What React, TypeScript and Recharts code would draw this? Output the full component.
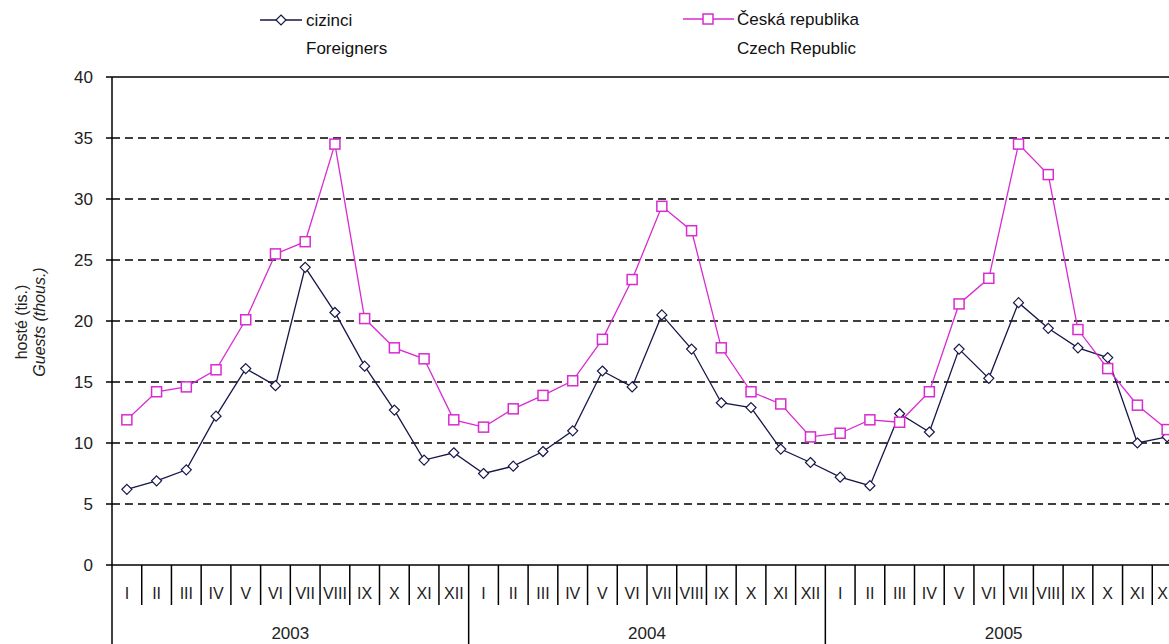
import {LineChart, Line, XAxis, YAxis, CartesianGrid, Legend, ReferenceLine} from "recharts";

const months = ["I", "II", "III", "IV", "V", "VI", "VII", "VIII", "IX", "X", "XI", "XII"];
const years = ["2003", "2004", "2005"];
const yTicks = [0, 5, 10, 15, 20, 25, 30, 35, 40];

// cizinci / Foreigners (thous.)
const foreigners = [
  6.2, 6.9, 7.8, 12.2, 16.1, 14.7, 24.4, 20.7, 16.3, 12.7, 8.6, 9.2,
  7.5, 8.1, 9.3, 11.0, 15.9, 14.6, 20.5, 17.7, 13.3, 12.9, 9.5, 8.4,
  7.2, 6.5, 12.4, 10.9, 17.7, 15.3, 21.5, 19.4, 17.8, 17.0, 10.0, 10.5,
];
// Česká republika / Czech Republic (thous.)
const czech = [
  11.9, 14.2, 14.6, 16.0, 20.1, 25.5, 26.5, 34.5, 20.2, 17.8, 16.9, 11.9,
  11.3, 12.8, 13.9, 15.1, 18.5, 23.4, 29.4, 27.4, 17.8, 14.2, 13.2, 10.5,
  10.8, 11.9, 11.7, 14.2, 21.4, 23.5, 34.5, 32.0, 19.3, 16.1, 13.1, 11.1,
];

const NAVY = "#16164a";
const PINK = "#d82bd0";
const FONT = "'Liberation Sans', Arial, sans-serif";

const CHART_W = 1190;
const CHART_H = 644;
const LEFT = 112;
const RIGHT = 8;
const TOP = 77;
const BAND = (CHART_W - LEFT - RIGHT) / (months.length * years.length);

const data = years.flatMap((year) =>
  months.map((m) => ({key: year + "-" + m, month: m, year: year}))
).map((row, i) => ({...row, foreigners: foreigners[i], czech: czech[i]}));

function MonthTick(props: any) {
  const {x, y, index} = props;
  const m = index % 12;
  const left = x - BAND / 2;
  return (
    <g>
      <line x1={left} x2={left} y1={y} y2={m === 0 ? CHART_H : y + 40} stroke="#000" strokeWidth={1.5} />
      <text x={x} y={y + 34} textAnchor="middle" fontSize={16} fontFamily={FONT} fill="#222">
        {data[index].month}
      </text>
      {m === 6 && (
        <text x={left} y={y + 74} textAnchor="middle" fontSize={17} fontFamily={FONT} fill="#222">
          {data[index].year}
        </text>
      )}
    </g>
  );
}

function Diamond(props: any) {
  const {cx, cy} = props;
  if (cx == null || cy == null) return null;
  return (
    <path
      d={`M${cx},${cy - 5} L${cx + 5},${cy} L${cx},${cy + 5} L${cx - 5},${cy} Z`}
      fill="#fff"
      stroke={NAVY}
      strokeWidth={1.2}
    />
  );
}

function Square(props: any) {
  const {cx, cy} = props;
  if (cx == null || cy == null) return null;
  return <rect x={cx - 5} y={cy - 5} width={10} height={10} fill="#fff" stroke={PINK} strokeWidth={1.5} />;
}

function renderLegend() {
  return (
    <svg width={CHART_W} height={TOP} style={{display: "block"}}>
      <line x1={260} x2={302} y1={20} y2={20} stroke={NAVY} strokeWidth={1.5} />
      <path d="M281,15 L286,20 L281,25 L276,20 Z" fill="#fff" stroke={NAVY} strokeWidth={1.2} />
      <text x={306} y={26} fontSize={17} fontFamily={FONT} fill="#111">cizinci</text>
      <text x={306} y={54} fontSize={17} fontFamily={FONT} fill="#111">Foreigners</text>
      <line x1={683} x2={734} y1={19} y2={19} stroke={PINK} strokeWidth={1.5} />
      <rect x={703} y={14} width={10} height={10} fill="#fff" stroke={PINK} strokeWidth={1.5} />
      <text x={737} y={25} fontSize={17} fontFamily={FONT} fill="#111">Česká republika</text>
      <text x={737} y={54} fontSize={17} fontFamily={FONT} fill="#111">Czech Republic</text>
    </svg>
  );
}

function AxisTitle() {
  return (
    <g fontFamily={FONT} fontSize={16} fill="#222">
      <text x={27} y={322} textAnchor="middle" transform="rotate(-90 27 322)">hosté (tis.)</text>
      <text x={45} y={322} textAnchor="middle" fontStyle="italic" transform="rotate(-90 45 322)">
        Guests (thous.)
      </text>
    </g>
  );
}

export default function App() {
  return (
    <div style={{position: "absolute", left: 0, top: 0, width: 1169, height: 644, overflow: "hidden", background: "#fff"}}>
      <LineChart width={CHART_W} height={CHART_H} data={data} margin={{top: 0, right: RIGHT, bottom: 0, left: 0}}>
        <Legend verticalAlign="top" content={renderLegend} wrapperStyle={{height: TOP}} />
        <CartesianGrid vertical={false} horizontalValues={[5, 10, 15, 20, 25, 30, 35]} stroke="#000" strokeWidth={1.5} strokeDasharray="8 5" />
        <ReferenceLine y={40} stroke="#000" strokeWidth={1.5} />
        <XAxis
          dataKey="key"
          height={79}
          interval={0}
          padding={{left: BAND / 2, right: BAND / 2}}
          tickSize={0}
          tickMargin={0}
          tickLine={false}
          tick={<MonthTick />}
          axisLine={{stroke: "#000", strokeWidth: 1.5}}
        />
        <YAxis
          width={LEFT}
          domain={[0, 40]}
          ticks={yTicks}
          interval={0}
          tickSize={6}
          tickMargin={13}
          tick={{fontSize: 17, fontFamily: FONT, fill: "#222"}}
          tickLine={{stroke: "#000", strokeWidth: 1.5}}
          axisLine={{stroke: "#000", strokeWidth: 1.5}}
          label={{content: () => <AxisTitle />}}
        />
        <Line dataKey="foreigners" stroke={NAVY} strokeWidth={1.3} dot={<Diamond />} isAnimationActive={false} />
        <Line dataKey="czech" stroke={PINK} strokeWidth={1.3} dot={<Square />} isAnimationActive={false} />
      </LineChart>
    </div>
  );
}
